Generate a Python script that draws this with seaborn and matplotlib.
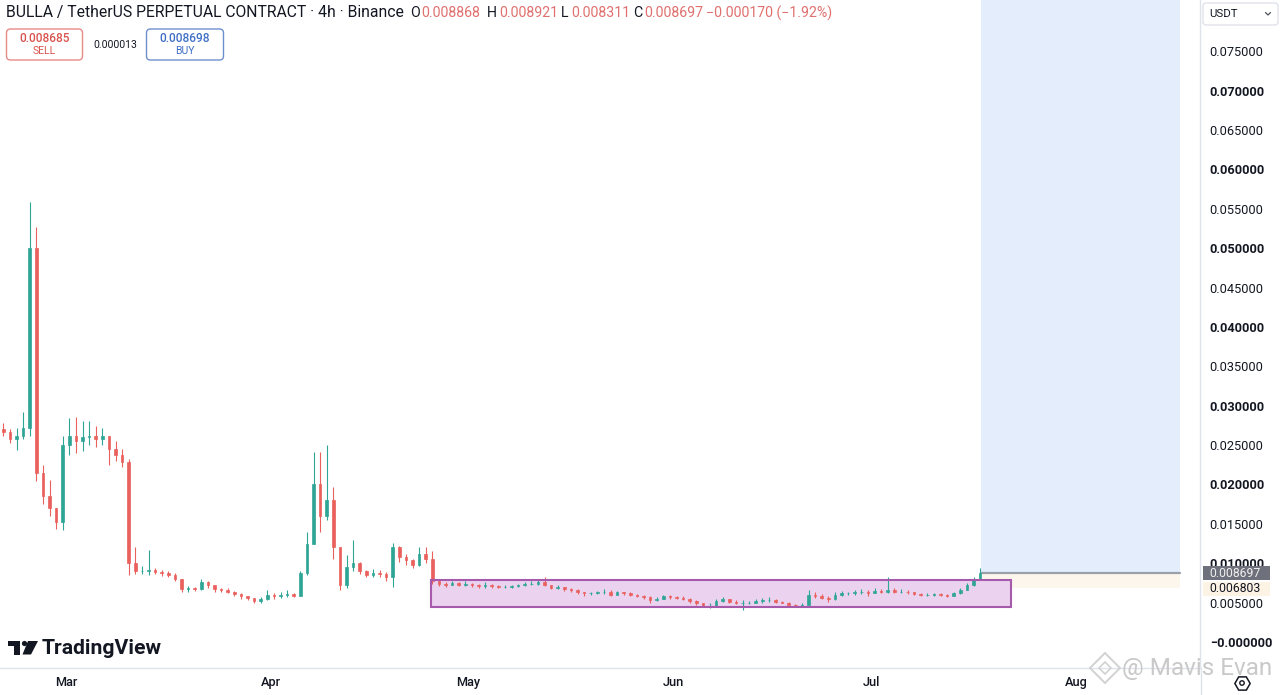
import numpy as np
import pandas as pd
import matplotlib
matplotlib.use("Agg")
import matplotlib.pyplot as plt
import matplotlib.dates as mdates
from matplotlib.patches import Rectangle, FancyBboxPatch, Polygon, Circle
import seaborn as sns

# ---------------- data (daily candles) ----------------
first_open = 0.0270
closes = [
    0.0266, 0.0258, 0.0262, 0.0272, 0.0500,
    0.0215, 0.0185, 0.0170, 0.0152, 0.0250,
    0.0262, 0.0255, 0.0260, 0.0262, 0.0258,
    0.0262, 0.0245, 0.0238, 0.0228, 0.0100,
    0.0090, 0.0090, 0.0092, 0.0089, 0.0087,
    0.0085, 0.0080, 0.0067, 0.0068, 0.0067,
    0.0076, 0.0072, 0.0067, 0.0066, 0.0064,
    0.0061, 0.0058, 0.0056, 0.0052, 0.0054,
    0.0060, 0.0058, 0.0060, 0.0061, 0.0059,
    0.0088, 0.0125, 0.0200, 0.0160, 0.0180,
    0.0120, 0.0072, 0.0095, 0.0100, 0.0090,
    0.0085, 0.0088, 0.0086, 0.0083, 0.0120,
    0.0108, 0.0104, 0.0098, 0.0112, 0.0106,
    0.0078, 0.0074, 0.0073, 0.0075, 0.0073,
    0.0074, 0.0072, 0.0071, 0.0073, 0.0071,
    0.0070, 0.0070, 0.0071, 0.0072, 0.0074,
    0.0074, 0.0076, 0.0073, 0.0069, 0.0070,
    0.0067, 0.0066, 0.0064, 0.0062, 0.0062,
    0.0063, 0.0064, 0.0060, 0.0063, 0.0062,
    0.0060, 0.0058, 0.0057, 0.0053, 0.0055,
    0.0058, 0.0057, 0.0056, 0.0055, 0.0052,
    0.0049, 0.0046, 0.0046, 0.0052, 0.0054,
    0.0051, 0.0050, 0.0050, 0.0050, 0.0052,
    0.0053, 0.0053, 0.0051, 0.0050, 0.0047,
    0.0046, 0.0047, 0.0060, 0.0059, 0.0056,
    0.0054, 0.0060, 0.0062, 0.0062, 0.0063,
    0.0064, 0.0062, 0.0065, 0.0064, 0.0066,
    0.0064, 0.0064, 0.0063, 0.0061, 0.0060,
    0.0060, 0.0061, 0.0060, 0.0059, 0.0062,
    0.0066, 0.0072, 0.0080, 0.008697,
]
highs = [
    0.0278, 0.0270, 0.0272, 0.0292, 0.0558,
    0.0527, 0.0225, 0.0206, 0.0170, 0.0262,
    0.0285, 0.0286, 0.0280, 0.0280, 0.0274,
    0.0272, 0.0262, 0.0255, 0.0245, 0.0232,
    0.0120, 0.0096, 0.0117, 0.0094, 0.0091,
    0.0090, 0.0088, 0.0080, 0.0071, 0.0070,
    0.0080, 0.0078, 0.0072, 0.0069, 0.0068,
    0.0065, 0.0062, 0.0059, 0.0056, 0.0057,
    0.0066, 0.0062, 0.0064, 0.0066, 0.0062,
    0.0090, 0.0140, 0.0241, 0.0241, 0.0250,
    0.0197, 0.0120, 0.0110, 0.0129, 0.0102,
    0.0092, 0.0093, 0.0092, 0.0089, 0.0126,
    0.0122, 0.0112, 0.0106, 0.0120, 0.0120,
    0.0116, 0.0078, 0.0076, 0.0078, 0.0076,
    0.0077, 0.0075, 0.0074, 0.0076, 0.0074,
    0.0073, 0.0072, 0.0073, 0.0074, 0.0076,
    0.0077, 0.0079, 0.0083, 0.0073, 0.0072,
    0.0070, 0.0069, 0.0067, 0.0064, 0.0064,
    0.0065, 0.0067, 0.0066, 0.0065, 0.0064,
    0.0063, 0.0061, 0.0060, 0.0058, 0.0057,
    0.0060, 0.0060, 0.0059, 0.0058, 0.0056,
    0.0053, 0.0050, 0.0049, 0.0055, 0.0057,
    0.0055, 0.0053, 0.0053, 0.0052, 0.0054,
    0.0056, 0.0057, 0.0054, 0.0052, 0.0051,
    0.0048, 0.0049, 0.0066, 0.0063, 0.0061,
    0.0058, 0.0063, 0.0065, 0.0064, 0.0066,
    0.0067, 0.0066, 0.0068, 0.0067, 0.0083,
    0.0069, 0.0067, 0.0066, 0.0064, 0.0062,
    0.0062, 0.0062, 0.0062, 0.0061, 0.0064,
    0.0068, 0.0075, 0.0082, 0.0094,
]
lows = [
    0.0262, 0.0252, 0.0244, 0.0258, 0.0262,
    0.0205, 0.0175, 0.0160, 0.0143, 0.0142,
    0.0238, 0.0240, 0.0242, 0.0250, 0.0248,
    0.0250, 0.0225, 0.0230, 0.0222, 0.0085,
    0.0086, 0.0086, 0.0085, 0.0086, 0.0084,
    0.0083, 0.0078, 0.0063, 0.0064, 0.0065,
    0.0066, 0.0069, 0.0064, 0.0063, 0.0062,
    0.0059, 0.0055, 0.0053, 0.0050, 0.0050,
    0.0053, 0.0055, 0.0056, 0.0057, 0.0057,
    0.0058, 0.0085, 0.0125, 0.0140, 0.0155,
    0.0105, 0.0066, 0.0068, 0.0090, 0.0086,
    0.0082, 0.0082, 0.0082, 0.0078, 0.0070,
    0.0102, 0.0098, 0.0094, 0.0096, 0.0100,
    0.0074, 0.0071, 0.0070, 0.0072, 0.0071,
    0.0071, 0.0070, 0.0069, 0.0069, 0.0069,
    0.0068, 0.0068, 0.0069, 0.0070, 0.0071,
    0.0072, 0.0073, 0.0071, 0.0067, 0.0067,
    0.0065, 0.0064, 0.0061, 0.0058, 0.0060,
    0.0061, 0.0061, 0.0058, 0.0060, 0.0060,
    0.0058, 0.0057, 0.0055, 0.0050, 0.0052,
    0.0054, 0.0055, 0.0055, 0.0053, 0.0050,
    0.0047, 0.0044, 0.0043, 0.0045, 0.0051,
    0.0049, 0.0048, 0.0041, 0.0048, 0.0049,
    0.0050, 0.0051, 0.0049, 0.0049, 0.0045,
    0.0045, 0.0045, 0.0046, 0.0056, 0.0054,
    0.0051, 0.0053, 0.0059, 0.0060, 0.0060,
    0.0061, 0.0059, 0.0062, 0.0062, 0.0062,
    0.0062, 0.0062, 0.0061, 0.0060, 0.0058,
    0.0058, 0.0059, 0.0058, 0.0057, 0.0059,
    0.0061, 0.0066, 0.0071, 0.0079,
]
start_date = "2025-02-19"
month_ticks = ["2025-03-01", "2025-04-01", "2025-05-01", "2025-06-01", "2025-07-01", "2025-08-01"]
month_labels = ["Mar", "Apr", "May", "Jun", "Jul", "Aug"]
price_ticks = [0.000, 0.005, 0.010, 0.015, 0.020, 0.025, 0.030, 0.035,
               0.040, 0.045, 0.050, 0.055, 0.060, 0.065, 0.070, 0.075]
last_price = 0.008697
stop_price = 0.006803
range_top, range_bottom = 0.00787, 0.00444

n = min(len(closes), len(highs), len(lows))
closes, highs, lows = closes[:n], highs[:n], lows[:n]
opens = [first_open] + closes[:-1]

df = pd.DataFrame({
    "date": pd.date_range(start_date + " 12:00", periods=n, freq="D"),
    "open": opens, "high": highs, "low": lows, "close": closes,
})
df["up"] = df["close"] >= df["open"]

# ---------------- style ----------------
sns.set_theme(style="white")
plt.rcParams["font.family"] = ["Roboto", "DejaVu Sans"]

W, H = 1280, 695
fig = plt.figure(figsize=(W / 100, H / 100), dpi=100)
fig.patch.set_facecolor("white")
ax = fig.add_axes([0, 27 / H, 1200 / W, 668 / H])
ax.set_facecolor("white")

x0 = mdates.date2num(pd.Timestamp(start_date))
px_per_day = 6.6
ax.set_xlim(x0, x0 + 1200 / px_per_day)
ax.set_ylim(-0.0033, 0.0815)

def day(px):
    return x0 + px / px_per_day

UP, DOWN = "#2fa596", "#e9605d"

# position tool (blue target / beige stop) and range box
ax.add_patch(Rectangle((day(981), last_price), day(1180) - day(981), 0.09,
                       facecolor="#e3edfb", edgecolor="none", zorder=0.5))
ax.add_patch(Rectangle((day(981), stop_price), day(1180) - day(981), last_price - stop_price,
                       facecolor="#fdf6ec", edgecolor="none", zorder=0.5))
ax.plot([day(981), day(1180)], [last_price, last_price], color="#9aa0aa", lw=1.6, zorder=0.6)
ax.add_patch(Rectangle((day(431), range_bottom), day(1011) - day(431), range_top - range_bottom,
                       facecolor="#ebd2ef", edgecolor="none", zorder=0.7))
ax.add_patch(Rectangle((day(431), range_bottom), day(1011) - day(431), range_top - range_bottom,
                       facecolor="none", edgecolor="#a55aac", lw=1.5, zorder=3))

# candles
xs = mdates.date2num(df["date"])
cols = np.where(df["up"], UP, DOWN)
top = np.maximum.reduce([df["high"], df["open"], df["close"]])
bot = np.minimum.reduce([df["low"], df["open"], df["close"]])
ax.vlines(xs, bot, top, colors=cols, lw=0.8, zorder=2)
body_lo = np.minimum(df["open"], df["close"])
body_h = np.abs(df["close"] - df["open"])
ax.bar(xs, body_h, bottom=body_lo, width=0.38, color=cols, edgecolor=cols, lw=0.5, zorder=2.1)

# axes styling
for s in ["top", "left"]:
    ax.spines[s].set_visible(False)
for s in ["bottom", "right"]:
    ax.spines[s].set_color("#e0e3eb")
    ax.spines[s].set_linewidth(1.0)
ax.grid(False)

ax.yaxis.tick_right()
ax.set_yticks(price_ticks)
ax.set_yticklabels(["−0.000000" if v == 0 else f"{v:.6f}" for v in price_ticks])
ax.tick_params(axis="y", length=0, pad=7, labelsize=9.2, colors="#131722")
for v, lab in zip(price_ticks, ax.get_yticklabels()):
    if round(v * 1000) % 10 == 0:
        lab.set_fontweight("bold")

ax.set_xticks(mdates.date2num(pd.to_datetime(month_ticks)))
ax.set_xticklabels(month_labels)
ax.tick_params(axis="x", length=0, pad=6, labelsize=9.2, colors="#131722")
for lab in ax.get_xticklabels():
    lab.set_fontweight("medium")

# ---------------- overlay in pixel coordinates ----------------
ov = fig.add_axes([0, 0, 1, 1], zorder=5)
ov.set_xlim(0, W)
ov.set_ylim(H, 0)
ov.axis("off")
ov.patch.set_alpha(0)

ov.plot([1200.5, 1200.5], [668, H], color="#e0e3eb", lw=1.0)

dark = "#131722"
red_txt = "#e0706f"
ov.text(6, 13, "BULLA / TetherUS PERPETUAL CONTRACT · 4h · Binance", fontsize=11.3,
        color=dark, va="center", ha="left")
pieces = [(410, "O", dark), (421, "0.008868", red_txt), (487, "H", dark), (499, "0.008921", red_txt),
          (561, "L", dark), (571, "0.008311", red_txt), (633, "C", dark), (644, "0.008697", red_txt),
          (706, "−0.000170 (−1.92%)", red_txt)]
for px, t, c in pieces:
    ov.text(px, 13, t, fontsize=10.2, color=c, va="center", ha="left")

# sell / buy boxes
sell_c, buy_c = "#d9534f", "#3f6fc4"
ov.add_patch(FancyBboxPatch((6.5, 29), 76, 31, boxstyle="round,pad=0,rounding_size=4",
                            facecolor="white", edgecolor="#e88a88", lw=1.0))
ov.text(44.5, 38.5, "0.008685", fontsize=8.6, color=sell_c, ha="center", va="center", fontweight="medium")
ov.text(44.5, 51, "SELL", fontsize=7.5, color=sell_c, ha="center", va="center")
ov.text(115, 45, "0.000013", fontsize=7.5, color=dark, ha="center", va="center")
ov.add_patch(FancyBboxPatch((146.5, 29), 77, 31, boxstyle="round,pad=0,rounding_size=4",
                            facecolor="white", edgecolor="#6f8fcc", lw=1.0))
ov.text(185, 38.5, "0.008698", fontsize=8.6, color=buy_c, ha="center", va="center", fontweight="medium")
ov.text(185, 51, "BUY", fontsize=7.5, color=buy_c, ha="center", va="center")

# USDT selector
ov.add_patch(FancyBboxPatch((1203, 3), 75, 22, boxstyle="round,pad=0,rounding_size=3",
                            facecolor="white", edgecolor="#e0e3eb", lw=1.0))
ov.text(1209, 14, "USDT", fontsize=8.2, color=dark, ha="left", va="center")
ov.plot([1265.5, 1268, 1270.5], [12.5, 15, 12.5], color="#50535e", lw=0.9)

# price labels on the scale
ov.add_patch(Rectangle((1203, 566), 67, 14, facecolor="#6e717b", edgecolor="none"))
ov.text(1209, 573.5, f"{last_price:.6f}", fontsize=8.8, color="#f0f0f0", ha="left", va="center")
ov.add_patch(Rectangle((1203, 582), 67, 14, facecolor="#fdf3e5", edgecolor="none"))
ov.text(1209, 589, f"{stop_price:.6f}", fontsize=8.8, color=dark, ha="left", va="center")

# TradingView logo
ov.add_patch(Polygon([(8, 641), (20, 641), (20, 654.5), (14, 654.5), (14, 646), (8, 646)],
                     closed=True, facecolor=dark, edgecolor="none"))
ov.add_patch(Circle((24.5, 643.5), 2.6, facecolor=dark, edgecolor="none"))
ov.add_patch(Polygon([(28, 641), (38, 641), (31, 654.5), (22.5, 654.5)],
                     closed=True, facecolor=dark, edgecolor="none"))
ov.text(42, 648, "TradingView", fontsize=15.2, fontweight="bold", color=dark, ha="left", va="center")

# settings icon
ov.plot([1242], [683], marker="H", ms=11, mfc="none", mec=dark, mew=1.1)
ov.add_patch(Circle((1242, 683), 2.2, facecolor="none", edgecolor=dark, lw=1.0))

# watermark
ov.plot([1105], [668], marker="D", ms=15, mfc="none", mec="#d2d2d2", mew=1.4)
ov.plot([1105], [668], marker="D", ms=6, mfc="none", mec="#d2d2d2", mew=1.2)
ov.text(1122, 668, "@ Mavis Evan", fontsize=17.5, color="#c9c9c9", ha="left", va="center")

fig.savefig("out.png", dpi=100, facecolor="white")
